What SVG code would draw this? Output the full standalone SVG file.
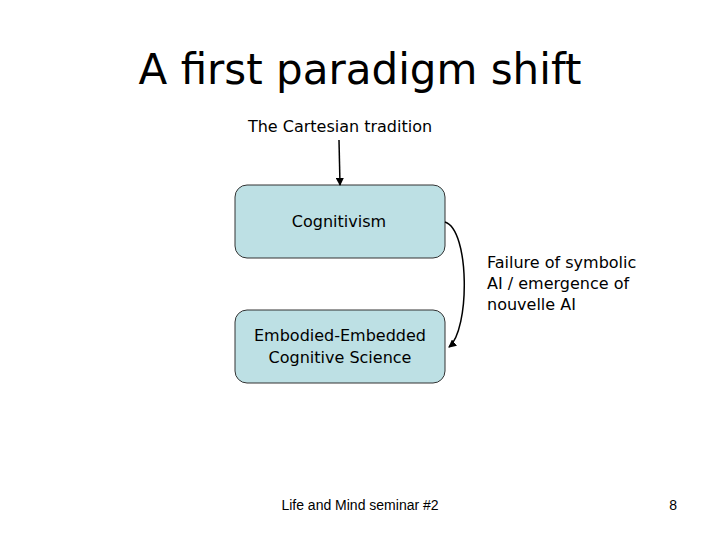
<svg xmlns="http://www.w3.org/2000/svg" width="720" height="540" viewBox="0 0 720 540">
<style>
.t{font-family:"DejaVu Sans",sans-serif;fill:#000}
.box{fill:#bde0e4;stroke:#333;stroke-width:1}
.c{fill:none;stroke:#000;stroke-width:1.5}
</style>
<defs><marker id="a" markerWidth="8" markerHeight="8" refX="7" refY="4" orient="auto" markerUnits="userSpaceOnUse"><path d="M0,0 L8,4 L0,8 z" fill="#000"/></marker></defs>
<rect width="720" height="540" fill="#fff"/>
<text class="t" x="360" y="84" font-size="42" text-anchor="middle">A first paradigm shift</text>
<g id="cartesian"><text class="t" x="340" y="132" font-size="16" text-anchor="middle">The Cartesian tradition</text></g>
<g id="cognitivism"><rect class="box" x="235" y="185" width="210" height="73" rx="12"/><text class="t" x="339" y="227" font-size="16" text-anchor="middle">Cognitivism</text></g>
<g id="embodied"><rect class="box" x="235" y="310" width="210" height="73" rx="12"/><text class="t" x="340" y="341" font-size="16" text-anchor="middle">Embodied-Embedded</text><text class="t" x="340" y="363" font-size="16" text-anchor="middle">Cognitive Science</text></g>
<g id="label"><text class="t" x="487" y="268" font-size="16">Failure of symbolic</text><text class="t" x="487" y="289" font-size="16">AI / emergence of</text><text class="t" x="487" y="310" font-size="16">nouvelle AI</text></g>
<g id="connectors">
<path class="c" d="M339,140 L340,185" marker-end="url(#a)"/>
<path class="c" d="M445,222 C470,230 470,330 449,347" marker-end="url(#a)"/>
</g>
<text x="360" y="510" font-family="Liberation Sans,sans-serif" font-size="14" text-anchor="middle">Life and Mind seminar #2</text>
<text x="677" y="510" font-family="Liberation Sans,sans-serif" font-size="14" text-anchor="end">8</text>
</svg>
